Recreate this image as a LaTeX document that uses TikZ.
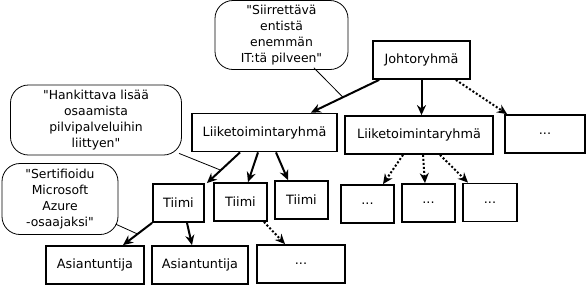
\documentclass[tikz,border=0pt]{standalone}
\usepackage{fontspec}
\newfontfamily\kirjasin{DejaVu Sans}
\usetikzlibrary{arrows.meta}
\usetikzlibrary{positioning}

\tikzset{
  box/.style={draw, line width=1.8pt, minimum height=38pt, inner sep=0pt, font=\kirjasin\fontsize{12.8}{15}\selectfont},
  quote/.style={draw, line width=0.8pt, rounded corners=18pt, align=center, inner sep=0pt, font=\kirjasin\fontsize{12.4}{16}\selectfont},
  link/.style={-{Stealth[length=10pt,width=9pt]}, line width=2pt},
  more/.style={link, dotted},
  pointer/.style={line width=0.8pt, shorten <=-3pt}
}

\begin{document}
\begin{tikzpicture}[x=1pt,y=-1pt]
	\useasboundingbox (0,0) rectangle (587,285);
	% organisaatio
	\node[box, minimum width=97pt] (johto) at (421.5,60) {Johtoryhmä};
	\node[box, minimum width=145pt] (liike1) at (264.5,132.5) {Liiketoimintaryhmä};
	\node[box, minimum width=148pt] (liike2) at (419,135) {Liiketoimintaryhmä};
	\node[box, minimum width=80pt] (muu1) at (545,134) {...};
	\node[box, minimum width=51pt] (tiimi1) at (178.5,203) {Tiimi};
	\node[box, minimum width=53pt] (tiimi2) at (240.5,202) {Tiimi};
	\node[box, minimum width=53pt] (tiimi3) at (301.5,200) {Tiimi};
	\node[box, minimum width=53pt] (muu3) at (367.5,204) {...};
	\node[box, minimum width=53pt] (muu4) at (428.5,203) {...};
	\node[box, minimum width=54pt] (muu5) at (490,202.5) {...};
	\node[box, minimum width=98pt] (asiant1) at (95,265) {Asiantuntija};
	\node[box, minimum width=96pt] (asiant2) at (200,265) {Asiantuntija};
	\node[box, minimum width=88pt] (muu2) at (301,264) {...};
	% kommentit
	\node[quote, minimum width=133pt, minimum height=69pt] (huom1) at (281.5,35) {"Siirrettävä\\entistä\\enemmän\\IT:tä pilveen"};
	\node[quote, minimum width=171pt, minimum height=70pt] (huom2) at (96,120) {"Hankittava lisää\\osaamista\\pilvipalveluihin\\liittyen"};
	\node[quote, minimum width=116pt, minimum height=71pt] (huom3) at (60,199) {"Sertifioidu\\Microsoft\\Azure\\-osaajaksi"};
	% nuolet
	\draw[link] ([xshift=7pt]johto.south west) -- ([xshift=-27pt]liike1.north east) coordinate[pos=0.53] (p1);
	\draw[link] (johto.south) -- (johto.south |- liike2.north);
	\draw[more] ([xshift=-15pt]johto.south east) -- ([xshift=3pt]muu1.north west);
	\draw[link] ([xshift=-24.5pt]liike1.south) -- ([xshift=2pt]tiimi1.north east) coordinate[pos=0.58] (p2);
	\draw[link] ([xshift=-6.5pt]liike1.south) -- ([xshift=7.5pt]tiimi2.north);
	\draw[link] ([xshift=11.5pt]liike1.south) -- ([xshift=-13.5pt]tiimi3.north);
	\draw[more] ([xshift=-16pt]liike2.south) -- ([xshift=15.5pt]muu3.north);
	\draw[more] ([xshift=4pt]liike2.south) -- ([xshift=-3.5pt]muu4.north);
	\draw[more] ([xshift=21pt]liike2.south) -- ([xshift=-22pt]muu5.north);
	\draw[link] (tiimi1.south west) -- ([xshift=28pt]asiant1.north) coordinate[pos=0.5] (p3);
	\draw[link] ([xshift=8.5pt]tiimi1.south) -- ([xshift=-8pt]asiant2.north);
	\draw[more] ([xshift=-4pt]tiimi2.south east) -- ([xshift=-16pt]muu2.north);
	% kommenttien viivat
	\draw[pointer] (huom1) -- (p1);
	\draw[pointer] (huom2) -- (p2);
	\draw[pointer] (huom3) -- (p3);
\end{tikzpicture}
\end{document}
